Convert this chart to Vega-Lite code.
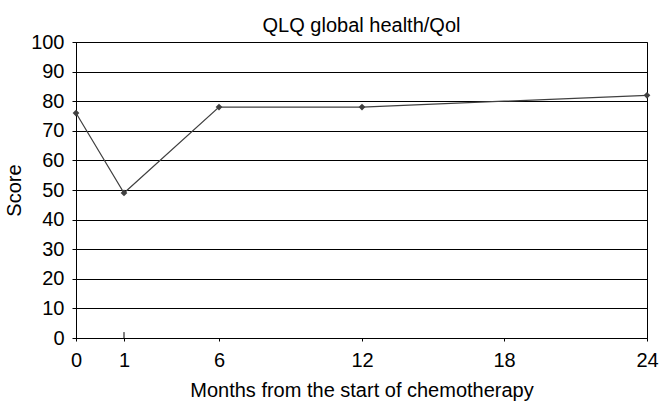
{
  "$schema": "https://vega.github.io/schema/vega-lite/v6.json",
  "width": 571,
  "height": 296,
  "autosize": {"type": "none"},
  "padding": {"left": 76, "top": 42, "right": 13, "bottom": 63},
  "background": "white",
  "config": {
    "font": "Liberation Sans",
    "view": {"stroke": "black", "strokeWidth": 1},
    "axis": {
      "labelFont": "Liberation Sans",
      "titleFont": "Liberation Sans",
      "labelFontSize": 20,
      "titleFontSize": 20,
      "labelColor": "black",
      "titleColor": "black",
      "titleFontWeight": "normal",
      "domainColor": "black",
      "tickColor": "black",
      "gridColor": "black",
      "gridOpacity": 1,
      "gridWidth": 1,
      "labelOverlap": false,
      "labelFlush": false
    }
  },
  "title": {
    "text": "QLQ global health/Qol",
    "fontSize": 20,
    "fontWeight": "normal",
    "font": "Liberation Sans",
    "color": "black",
    "anchor": "middle",
    "offset": -4
  },
  "data": {
    "values": [
      {"month": 0, "score": 76},
      {"month": 1, "score": 49},
      {"month": 6, "score": 78},
      {"month": 12, "score": 78},
      {"month": 24, "score": 82}
    ]
  },
  "encoding": {
    "x": {
      "field": "month",
      "type": "quantitative",
      "scale": {"domain": [0, 1, 6, 12, 18, 24], "range": [0, 48, 143, 286, 428, 571], "nice": false, "zero": false},
      "axis": {
        "values": [0, 1, 6, 12, 18, 24],
        "grid": false,
        "tickSize": 3,
        "labelPadding": 9,
        "title": "Months from the start of chemotherapy",
        "titlePadding": 10
      }
    },
    "y": {
      "field": "score",
      "type": "quantitative",
      "scale": {"domain": [0, 100], "nice": false},
      "axis": {
        "values": [0, 10, 20, 30, 40, 50, 60, 70, 80, 90, 100],
        "grid": true,
        "tickSize": 4,
        "labelPadding": 8,
        "title": "Score",
        "titlePadding": 6
      }
    }
  },
  "layer": [
    {
      "mark": {"type": "line", "color": "#404040", "strokeWidth": 1.2}
    },
    {
      "mark": {"type": "point", "shape": "diamond", "filled": true, "color": "#404040", "size": 45, "opacity": 1}
    },
    {
      "transform": [{"filter": "datum.month == 1"}],
      "mark": {"type": "rule", "color": "black", "strokeWidth": 1},
      "encoding": {
        "y": {
          "datum": 0,
          "type": "quantitative",
          "axis": {
            "values": [0, 10, 20, 30, 40, 50, 60, 70, 80, 90, 100],
            "grid": true,
            "tickSize": 4,
            "labelPadding": 8,
            "title": "Score",
            "titlePadding": 6
          }
        },
        "y2": {"datum": 2}
      }
    }
  ]
}
